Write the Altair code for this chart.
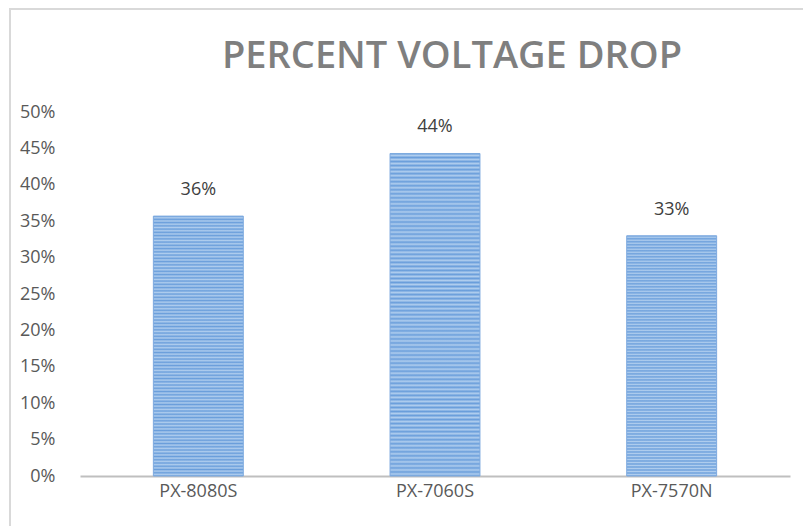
import altair as alt
import pandas as pd

categories = ["PX-8080S", "PX-7060S", "PX-7570N"]
values = [0.357, 0.443, 0.33]
y_ticks = [0, 0.05, 0.10, 0.15, 0.20, 0.25, 0.30, 0.35, 0.40, 0.45, 0.50]
title_text = "PERCENT VOLTAGE DROP"

df = pd.DataFrame({"model": categories, "drop": values})

# striped fill (light blue with thin darker horizontal lines)
light = "#afcdee"
dark = "#6a9edb"
N = 80
stops = []
for k in range(N):
    stops += [
        {"offset": k / N, "color": dark},
        {"offset": (k + 0.5) / N, "color": light},
    ]
stops.append({"offset": 1, "color": dark})
gradient = alt.LinearGradient(gradient="linear", x1=0, y1=0, x2=0, y2=1,
                              stops=[alt.GradientStop(**s) for s in stops])

FONT = "Open Sans"
FS = 18

x_enc = alt.X("model:N", sort=categories, title=None,
              scale=alt.Scale(paddingInner=0.62, paddingOuter=0.31),
              axis=alt.Axis(labelAngle=0, labelFontSize=FS, labelColor="#595959",
                            labelFont=FONT, labelPadding=6, ticks=False,
                            domainColor="#bfbfbf", domainWidth=2))
y_enc = alt.Y("drop:Q", title=None,
              scale=alt.Scale(domain=[0, 0.5], nice=False),
              axis=alt.Axis(values=y_ticks, format=".0%", grid=False, domain=False,
                            ticks=False, labelFontSize=FS, labelColor="#595959",
                            labelFont=FONT, labelPadding=25, labelOverlap=False,
                            labelBound=False))

bars = alt.Chart(df).mark_bar(color=gradient, stroke="#7eaadf", strokeWidth=1).encode(
    x=x_enc, y=y_enc)

labels = alt.Chart(df).mark_text(dy=-26, fontSize=FS, color="#404040", font=FONT).encode(
    x=x_enc, y=y_enc,
    text=alt.Text("drop:Q", format=".0%"))

title_mark = alt.Chart(pd.DataFrame({"t": [title_text]})).mark_text(
    fontSize=38, font=FONT, fontWeight=600, color="#7f7f7f",
    align="center", baseline="middle").encode(
    text="t:N", x=alt.value(372), y=alt.value(-55))

frame_left = alt.Chart(df).mark_rule(color="#d9d9d9", strokeWidth=2).encode(
    x=alt.value(-70), y=alt.value(-104), y2=alt.value(420))
frame_top = alt.Chart(df).mark_rule(color="#d9d9d9", strokeWidth=2).encode(
    x=alt.value(-70), x2=alt.value(730), y=alt.value(-103))

chart = alt.layer(frame_left, frame_top, bars, labels, title_mark).properties(
    width=710, height=364,
    autosize=alt.AutoSizeParams(type="none"),
    padding={"left": 72, "top": 104, "right": 13, "bottom": 50},
).configure(background="white").configure_view(strokeWidth=0)

chart.save("out.html", embed_options={"renderer": "svg", "actions": False})
